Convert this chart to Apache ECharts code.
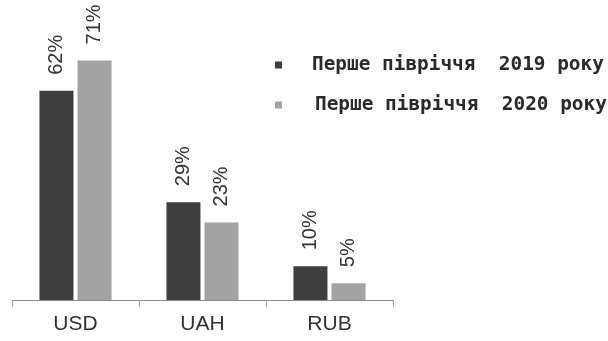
<!DOCTYPE html>
<html>
<head>
<meta charset="utf-8">
<script src="https://cdn.jsdelivr.net/npm/echarts@6/dist/echarts.min.js"></script>
<style>html,body{margin:0;padding:0;background:#fff;}#c{width:608px;height:341px;}</style>
</head>
<body>
<div id="c"></div>
<script>
const categories = ['USD', 'UAH', 'RUB'];
const seriesNames = ['Перше півріччя  2019 року', 'Перше півріччя  2020 року'];
const values2019 = [62, 29, 10];
const values2020 = [71, 23, 5];

const chart = echarts.init(document.getElementById('c'), null, {renderer: 'canvas'});
const labelCfg = {
  show: true, position: 'top', rotate: 90, align: 'left', verticalAlign: 'middle',
  distance: 16, formatter: '{c}%', fontSize: 20, color: '#333',
  fontFamily: 'Liberation Sans, Arial, sans-serif'
};
const legendText = {
  fontFamily: 'DejaVu Sans Mono, monospace', fontSize: 19.4, color: '#2a2a2a',
  fontWeight: 'bold', lineHeight: 20, padding: [0, 0, 0, 25]
};
chart.setOption({
  animation: false,
  backgroundColor: '#fff',
  grid: {left: 12, right: 215, top: 30, bottom: 41, containLabel: false},
  legend: [
    {data: [seriesNames[0]], left: 275, top: 55, padding: 0, icon: 'rect', itemWidth: 7, itemHeight: 7, textStyle: legendText},
    {data: [seriesNames[1]], left: 275, top: 95, padding: 0, icon: 'rect', itemWidth: 7, itemHeight: 7,
     textStyle: Object.assign({}, legendText, {padding: [0, 0, 0, 28]})}
  ],
  xAxis: {
    type: 'category', data: categories, boundaryGap: true,
    axisLine: {lineStyle: {color: '#8a8a8a', width: 1}},
    axisTick: {show: true, length: 7, lineStyle: {color: '#a0a0a0'}},
    axisLabel: {fontSize: 21, color: '#333', margin: 14, fontFamily: 'Liberation Sans, Arial, sans-serif'}
  },
  yAxis: {type: 'value', min: 0, max: 80, show: false, splitLine: {show: false}},
  series: [
    {name: seriesNames[0], type: 'bar', data: values2019, barWidth: 34, barGap: '12%',
     itemStyle: {color: '#3e3e3e'}, label: labelCfg},
    {name: seriesNames[1], type: 'bar', data: values2020, barWidth: 34,
     itemStyle: {color: '#a3a3a3'}, label: labelCfg}
  ]
});
</script>
</body>
</html>
